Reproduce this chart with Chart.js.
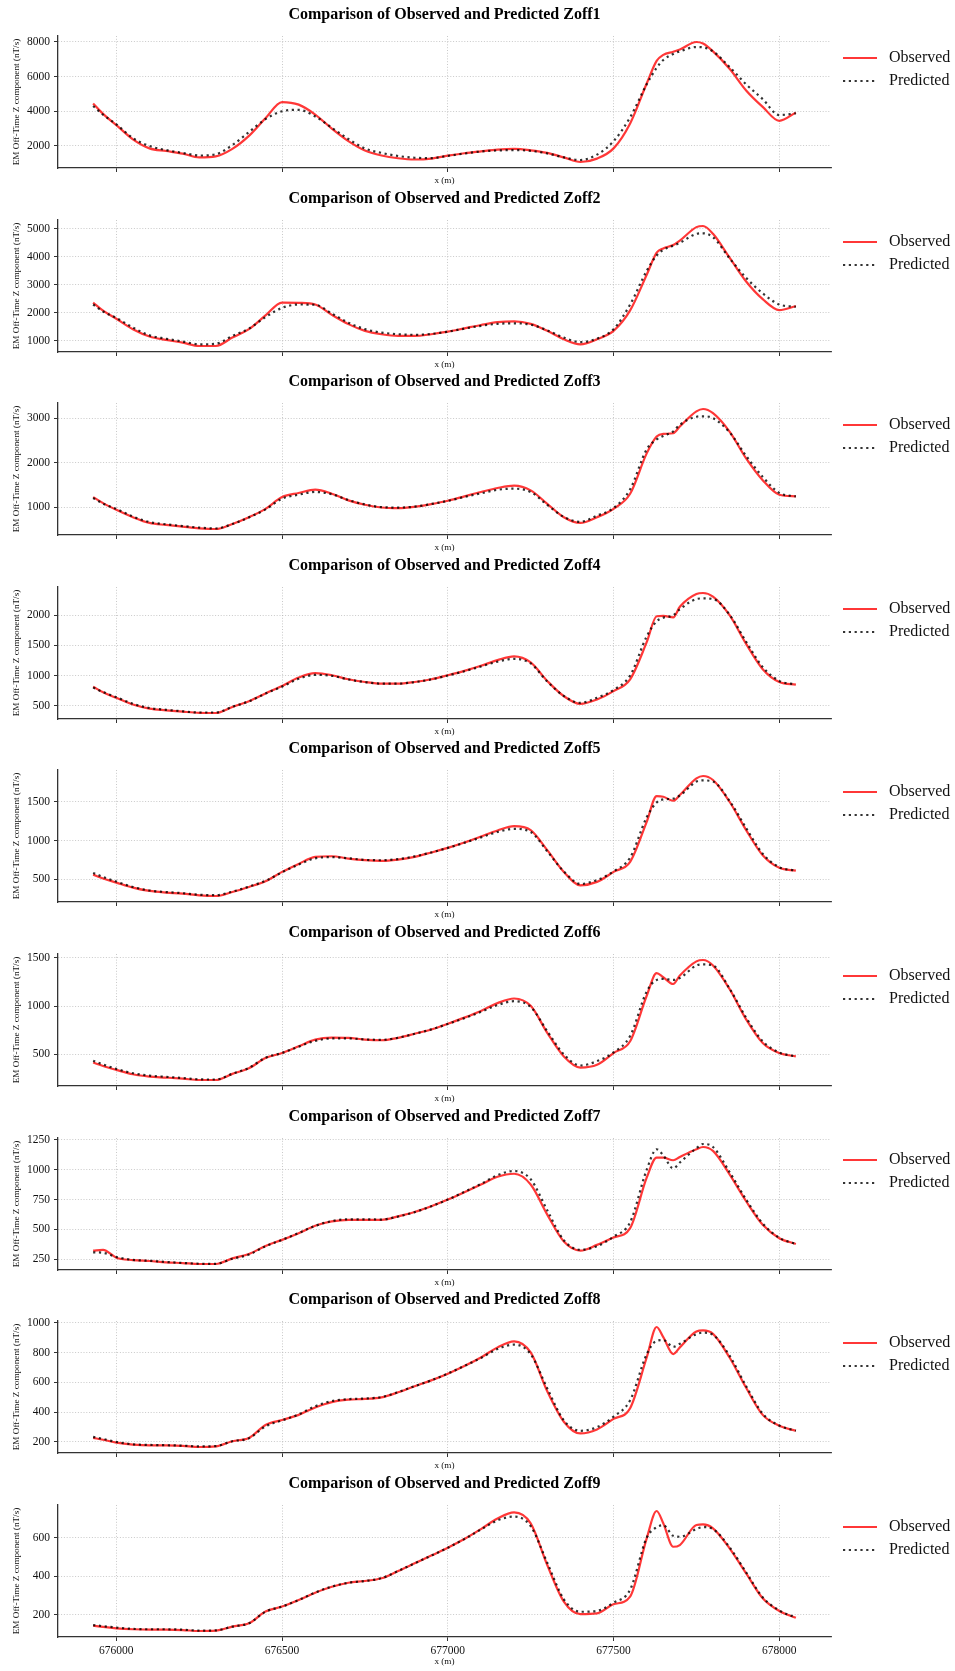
<!DOCTYPE html>
<html>
<head>
<meta charset="utf-8">
<title>Observed vs Predicted Zoff</title>
<script src="https://cdn.jsdelivr.net/npm/chart.js@4.4.1/dist/chart.umd.min.js"></script>
<style>
  html, body { margin: 0; padding: 0; background: #ffffff; }
  #figure { position: relative; width: 955px; height: 1671px; overflow: hidden; background: #ffffff; }
  #figure canvas { position: absolute; left: 0; }
</style>
</head>
<body>
<div id="figure"></div>
<script>
// Station positions along the line (m)
const xs = [675930, 675960, 676000, 676050, 676100, 676150, 676200, 676250, 676300, 676350,
            676400, 676450, 676500, 676550, 676600, 676650, 676700, 676750, 676800, 676850,
            676900, 676950, 677000, 677050, 677100, 677150, 677200, 677250, 677300, 677350,
            677400, 677450, 677500, 677550, 677600, 677630, 677650, 677680, 677700, 677750,
            677770, 677800, 677850, 677900, 677950, 678000, 678050];

const xTicks = [676000, 676500, 677000, 677500, 678000];

// Off-time Z channels (nT/s): observed and predicted
const zoff1Obs  = [4450, 3850, 3200, 2380, 1860, 1710, 1560, 1340, 1400, 1830, 2580, 3600, 4530, 4380, 3810, 3000, 2280, 1740, 1450, 1290, 1220, 1270, 1440, 1580, 1690, 1790, 1830, 1750, 1600, 1340, 1075, 1270, 1860, 3300, 5600, 6900, 7250, 7430, 7560, 7990, 7900, 7450, 6450, 5200, 4250, 3450, 3920];
const zoff1Pred = [4300, 3800, 3250, 2450, 2000, 1760, 1600, 1450, 1520, 2050, 2800, 3550, 4000, 4080, 3700, 3050, 2400, 1850, 1600, 1420, 1320, 1300, 1430, 1560, 1680, 1740, 1760, 1720, 1570, 1340, 1190, 1500, 2270, 3650, 5550, 6500, 6950, 7300, 7450, 7700, 7680, 7450, 6550, 5550, 4700, 3780, 3880];

const zoff2Obs  = [2370, 2080, 1790, 1420, 1160, 1040, 940, 820, 820, 1120, 1420, 1910, 2370, 2360, 2300, 1930, 1600, 1360, 1240, 1180, 1180, 1240, 1330, 1450, 1570, 1670, 1700, 1610, 1360, 1060, 880, 1060, 1360, 2090, 3360, 4150, 4300, 4420, 4580, 5060, 5100, 4820, 3970, 3120, 2490, 2100, 2240];
const zoff2Pred = [2300, 2050, 1820, 1480, 1200, 1080, 980, 880, 900, 1180, 1440, 1850, 2180, 2300, 2290, 1980, 1650, 1420, 1300, 1240, 1220, 1250, 1330, 1440, 1540, 1610, 1630, 1580, 1380, 1120, 960, 1080, 1420, 2300, 3500, 4050, 4250, 4400, 4500, 4820, 4840, 4700, 3950, 3250, 2700, 2300, 2220];

const zoff3Obs  = [1226, 1090, 940, 774, 645, 600, 562, 525, 509, 623, 774, 962, 1226, 1317, 1392, 1302, 1151, 1053, 992, 977, 1008, 1068, 1143, 1242, 1340, 1430, 1483, 1377, 1075, 774, 645, 774, 962, 1300, 2207, 2585, 2645, 2660, 2811, 3151, 3204, 3113, 2698, 2094, 1604, 1279, 1242];
const zoff3Pred = [1204, 1080, 960, 790, 665, 615, 575, 540, 520, 620, 770, 950, 1190, 1280, 1340, 1290, 1160, 1060, 1000, 990, 1010, 1070, 1140, 1230, 1310, 1390, 1415, 1340, 1050, 780, 670, 810, 980, 1400, 2300, 2520, 2600, 2700, 2850, 3030, 3040, 3000, 2680, 2150, 1680, 1320, 1240];

const zoff4Obs  = [814, 720, 629, 517, 450, 422, 399, 380, 377, 478, 573, 702, 825, 965, 1038, 1004, 937, 892, 864, 864, 892, 937, 1004, 1077, 1161, 1256, 1318, 1217, 909, 657, 528, 601, 741, 937, 1553, 1984, 1990, 1965, 2141, 2354, 2370, 2309, 2001, 1525, 1105, 892, 847];
const zoff4Pred = [800, 725, 640, 530, 460, 430, 405, 385, 385, 480, 570, 700, 815, 945, 1010, 995, 935, 890, 865, 865, 890, 935, 1000, 1070, 1150, 1230, 1275, 1200, 900, 660, 545, 630, 760, 1000, 1650, 1900, 1960, 2000, 2100, 2270, 2280, 2270, 2010, 1560, 1140, 910, 850];

const zoff5Obs  = [560, 510, 457, 392, 349, 328, 315, 293, 284, 336, 401, 474, 595, 698, 789, 797, 767, 746, 737, 754, 789, 845, 905, 974, 1052, 1129, 1185, 1134, 875, 595, 422, 466, 595, 724, 1241, 1573, 1565, 1513, 1586, 1802, 1832, 1780, 1500, 1134, 810, 647, 612];
const zoff5Pred = [582, 530, 470, 400, 355, 335, 320, 300, 295, 340, 405, 480, 590, 690, 770, 785, 770, 750, 745, 760, 795, 845, 905, 970, 1040, 1110, 1150, 1110, 860, 600, 440, 490, 600, 780, 1300, 1490, 1530, 1540, 1580, 1760, 1775, 1760, 1510, 1160, 830, 655, 612];

const zoff6Obs  = [416, 380, 340, 294, 270, 260, 249, 235, 235, 298, 357, 462, 514, 584, 653, 674, 671, 653, 646, 671, 713, 758, 817, 880, 949, 1030, 1078, 1002, 723, 479, 364, 392, 514, 636, 1106, 1340, 1298, 1228, 1315, 1462, 1476, 1420, 1176, 862, 618, 514, 479];
const zoff6Pred = [435, 395, 350, 305, 280, 268, 256, 242, 240, 300, 360, 465, 515, 580, 640, 665, 665, 655, 650, 672, 713, 758, 815, 875, 940, 1010, 1050, 990, 740, 500, 385, 430, 520, 690, 1150, 1270, 1280, 1270, 1290, 1420, 1430, 1420, 1180, 880, 635, 520, 478];

const zoff7Obs  = [323, 329, 264, 244, 236, 225, 219, 211, 211, 258, 295, 362, 413, 469, 531, 567, 581, 581, 581, 610, 646, 694, 750, 812, 876, 941, 966, 876, 624, 399, 323, 371, 433, 511, 933, 1101, 1101, 1079, 1107, 1171, 1190, 1157, 961, 736, 539, 427, 379];
const zoff7Pred = [309, 305, 270, 245, 238, 228, 220, 213, 212, 255, 290, 360, 413, 470, 530, 570, 585, 585, 583, 608, 645, 694, 750, 815, 880, 955, 989, 920, 660, 410, 330, 360, 440, 560, 1000, 1171, 1120, 1011, 1060, 1180, 1215, 1190, 980, 750, 550, 430, 378];

const zoff8Obs  = [227, 215, 195, 182, 177, 177, 173, 166, 170, 205, 227, 314, 348, 382, 432, 468, 484, 489, 500, 534, 575, 614, 659, 711, 768, 836, 877, 802, 541, 336, 257, 284, 355, 427, 768, 973, 905, 791, 836, 943, 950, 927, 768, 564, 382, 309, 275];
const zoff8Pred = [234, 220, 200, 184, 180, 178, 175, 170, 172, 205, 225, 305, 345, 385, 440, 475, 488, 492, 502, 535, 575, 614, 660, 711, 765, 825, 855, 790, 560, 345, 275, 300, 370, 480, 790, 880, 885, 840, 860, 925, 935, 920, 780, 575, 390, 310, 275];

const zoff9Obs  = [143, 136, 129, 124, 122, 122, 120, 115, 117, 138, 155, 216, 242, 276, 314, 345, 366, 375, 389, 427, 467, 507, 548, 593, 645, 700, 732, 675, 458, 268, 203, 207, 254, 294, 597, 739, 675, 553, 562, 666, 669, 649, 545, 415, 285, 219, 184];
const zoff9Pred = [146, 140, 133, 126, 124, 124, 122, 117, 118, 138, 155, 215, 242, 276, 315, 346, 366, 375, 390, 427, 467, 507, 548, 593, 643, 690, 710, 660, 470, 280, 215, 220, 262, 330, 600, 655, 665, 610, 605, 645, 655, 645, 550, 420, 290, 222, 185];

// y-axis tick values per channel
const zoff1Ticks = [2000, 4000, 6000, 8000];
const zoff2Ticks = [1000, 2000, 3000, 4000, 5000];
const zoff3Ticks = [1000, 2000, 3000];
const zoff4Ticks = [500, 1000, 1500, 2000];
const zoff5Ticks = [500, 1000, 1500];
const zoff6Ticks = [500, 1000, 1500];
const zoff7Ticks = [250, 500, 750, 1000, 1250];
const zoff8Ticks = [200, 400, 600, 800, 1000];
const zoff9Ticks = [200, 400, 600];

const channels = [
  { name: 'Zoff1', obs: zoff1Obs, pred: zoff1Pred, ticks: zoff1Ticks },
  { name: 'Zoff2', obs: zoff2Obs, pred: zoff2Pred, ticks: zoff2Ticks },
  { name: 'Zoff3', obs: zoff3Obs, pred: zoff3Pred, ticks: zoff3Ticks },
  { name: 'Zoff4', obs: zoff4Obs, pred: zoff4Pred, ticks: zoff4Ticks },
  { name: 'Zoff5', obs: zoff5Obs, pred: zoff5Pred, ticks: zoff5Ticks },
  { name: 'Zoff6', obs: zoff6Obs, pred: zoff6Pred, ticks: zoff6Ticks },
  { name: 'Zoff7', obs: zoff7Obs, pred: zoff7Pred, ticks: zoff7Ticks },
  { name: 'Zoff8', obs: zoff8Obs, pred: zoff8Pred, ticks: zoff8Ticks },
  { name: 'Zoff9', obs: zoff9Obs, pred: zoff9Pred, ticks: zoff9Ticks }
];

// ---- layout of the stacked panels ----
const FIG_W = 955;
const PANEL_STEP = 183.6;   // vertical distance between panels
const AXES_LEFT = 58;
const AXES_RIGHT = 831;
const AXES_TOP = 36;        // within each panel canvas
const AXES_BOTTOM = 168;
const SERIF = '"Liberation Serif", "Times New Roman", Times, serif';

Chart.defaults.font.family = SERIF;
Chart.defaults.color = '#111';

// matplotlib-style 5% data margins
function paddedRange(values) {
  const lo = Math.min(...values), hi = Math.max(...values);
  const pad = (hi - lo) * 0.05;
  return { min: lo - pad, max: hi + pad };
}
const xRange = paddedRange(xs);

// Legend drawn to the right of the axes, styled from the datasets
const sideLegend = {
  id: 'sideLegend',
  afterDraw(chart) {
    const { ctx, chartArea } = chart;
    const x0 = chartArea.right + 12;
    const x1 = chartArea.right + 46;
    chart.data.datasets.forEach((ds, i) => {
      const y = chartArea.top + 22 + i * 23;
      ctx.save();
      ctx.strokeStyle = ds.borderColor;
      ctx.lineWidth = ds.borderWidth;
      ctx.lineCap = 'butt';
      ctx.setLineDash(ds.borderDash || []);
      ctx.beginPath();
      ctx.moveTo(x0, y);
      ctx.lineTo(x1, y);
      ctx.stroke();
      ctx.setLineDash([]);
      ctx.fillStyle = '#111';
      ctx.font = '16px ' + SERIF;
      ctx.textBaseline = 'middle';
      ctx.textAlign = 'left';
      ctx.fillText(ds.label, x1 + 12, y);
      ctx.restore();
    });
  }
};

// shared axis styling: dotted light grid, solid dark spine and tick marks
function axisGrid() {
  return {
    display: true,
    drawOnChartArea: true,
    drawTicks: true,
    tickLength: 4,
    color: 'rgba(175,175,175,0.85)',
    lineWidth: 0.8,
    tickColor: '#333',
    tickWidth: 1,
    tickBorderDash: []
  };
}
function axisBorder() {
  return { display: true, color: '#333', width: 1.3, dash: [1, 1.8] };
}

const figure = document.getElementById('figure');

channels.forEach((ch, idx) => {
  const last = idx === channels.length - 1;
  const top = Math.round(idx * PANEL_STEP);
  const height = last ? 1671 - top : 200;

  const canvas = document.createElement('canvas');
  canvas.width = FIG_W;
  canvas.height = height;
  canvas.style.width = FIG_W + 'px';
  canvas.style.height = height + 'px';
  canvas.style.top = top + 'px';
  figure.appendChild(canvas);

  const yRange = paddedRange(ch.obs.concat(ch.pred));

  new Chart(canvas.getContext('2d'), {
    type: 'line',
    data: {
      datasets: [
        {
          label: 'Observed',
          data: xs.map((x, i) => ({ x, y: ch.obs[i] })),
          borderColor: 'rgba(255, 20, 20, 0.85)',
          borderWidth: 2.2,
          pointRadius: 0,
          fill: false,
          cubicInterpolationMode: 'monotone',
          order: 2
        },
        {
          label: 'Predicted',
          data: xs.map((x, i) => ({ x, y: ch.pred[i] })),
          borderColor: 'rgba(0, 0, 0, 0.8)',
          borderWidth: 2.2,
          borderDash: [2.2, 3.6],
          borderCapStyle: 'butt',
          pointRadius: 0,
          fill: false,
          cubicInterpolationMode: 'monotone',
          order: 1
        }
      ]
    },
    options: {
      responsive: false,
      animation: false,
      devicePixelRatio: 1,
      events: [],
      layout: { padding: { left: 0, right: FIG_W - AXES_RIGHT, top: 0, bottom: 0 } },
      plugins: {
        legend: { display: false },
        tooltip: { enabled: false },
        title: {
          display: true,
          fullSize: false,
          text: 'Comparison of Observed and Predicted ' + ch.name,
          color: '#000',
          font: { family: SERIF, size: 16, weight: 'bold', lineHeight: 1.2 },
          padding: { top: 5, bottom: AXES_TOP - 5 - 19.2 }
        }
      },
      scales: {
        x: {
          type: 'linear',
          min: xRange.min,
          max: xRange.max,
          afterBuildTicks: s => { s.ticks = xTicks.map(v => ({ value: v })); },
          afterFit: s => { s.height = height - AXES_BOTTOM; },
          border: axisBorder(),
          grid: axisGrid(),
          ticks: {
            display: true,
            color: last ? '#111' : 'rgba(0,0,0,0)',
            font: { family: SERIF, size: 11.5 },
            padding: 3,
            maxRotation: 0,
            autoSkip: false,
            callback: v => String(v)
          },
          title: {
            display: true,
            text: 'x (m)',
            color: '#111',
            font: { family: SERIF, size: 9.2, lineHeight: 1.2 },
            padding: { top: 0, bottom: last ? 3.6 : 13.6 }
          }
        },
        y: {
          type: 'linear',
          min: yRange.min,
          max: yRange.max,
          afterBuildTicks: s => {
            s.ticks = ch.ticks.filter(v => v >= s.min && v <= s.max).map(v => ({ value: v }));
          },
          afterFit: s => { s.width = AXES_LEFT; },
          border: axisBorder(),
          grid: axisGrid(),
          ticks: {
            color: '#111',
            font: { family: SERIF, size: 11.5 },
            padding: 4,
            autoSkip: false,
            callback: v => String(v)
          },
          title: {
            display: true,
            text: 'EM Off-Time Z component (nT/s)',
            color: '#111',
            font: { family: SERIF, size: 9.2, lineHeight: 1.2 },
            padding: { top: 11.5, bottom: 0 }
          }
        }
      }
    },
    plugins: [sideLegend]
  });
});
</script>
</body>
</html>
